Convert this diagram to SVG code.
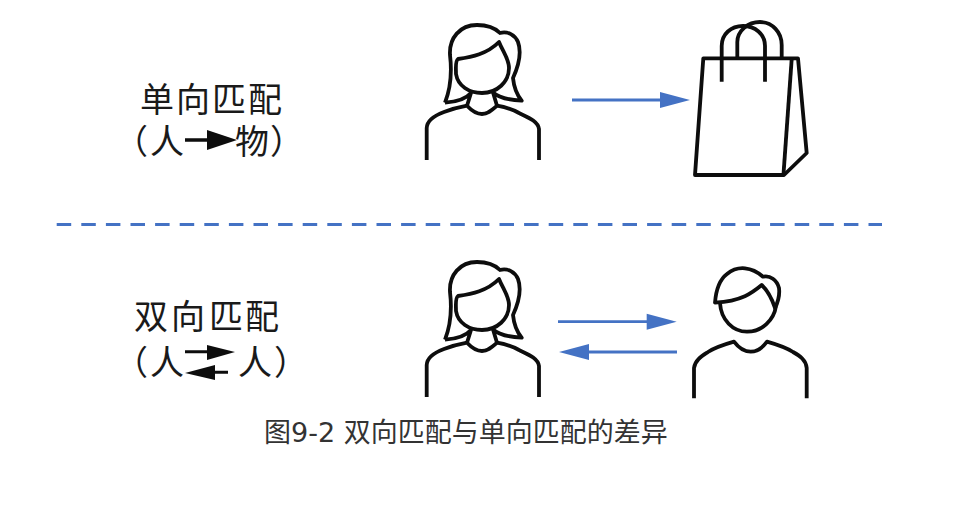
<svg xmlns="http://www.w3.org/2000/svg" width="956" height="515" viewBox="0 0 956 515">
<style>
.ink{fill:none;stroke:#0d0d0d;stroke-width:3.8;stroke-linecap:butt;stroke-linejoin:round}
.blue{fill:none;stroke:#4472c4;stroke-width:2.8}
.head{fill:#4472c4}
.lab{font-family:"Noto Sans CJK SC","Noto Sans CJK JP",sans-serif;font-weight:400;fill:#1a1a1a;font-size:34px}
.cap{font-family:"DejaVu Sans","Noto Sans CJK SC",sans-serif;fill:#333;font-size:27px}
.karrow{fill:#0d0d0d}
</style>
<defs>
<g id="woman">
<path class="ink" d="M426.700 160V128C427 120 436 115 444 112C452 109 460 107 467 105.700C472 111 476 114 482 114C488 114 492 110 497 105.700C505 107 512 109 519 113C527 117 538 121 539 129V160"/>
<path class="ink" d="M445 102.700C450 90 452 72 450 55C449 38 460 25 477 25C488 25 495 28 500 33C508 31 515 35 518 42C522 53 518 67 513 78C514 88 517 95 521.700 100.700C510 100 499 98 493 92.500L497 105.700"/>
<path class="ink" d="M445 102.700C455 102 465 100 471 93L467 105.700"/>
<path class="ink" d="M499 42C487 54 472 57 458 59C455 61 456 68 456 74C458 86 469 93 482 93C497 93 509 82 509 68C509 59 503 52 499 42Z"/>
</g>
</defs>
<g id="label-one-way">
<text class="lab" x="140" y="112">单</text><text class="lab" x="176" y="112">向</text><text class="lab" x="212" y="112">匹</text><text class="lab" x="248" y="112">配</text>
<text class="lab" x="114" y="154">（</text><text class="lab" x="150" y="154">人</text><text class="lab" x="235" y="154">物</text><text class="lab" x="270" y="154">）</text>
<path class="karrow" d="M185 138.300H207V130L237 140L207 150V141.700H185Z"/>
</g>
<g id="woman-top"><use href="#woman"/></g>
<g id="bag">
<path class="ink" d="M703.300 58.300H798L806.700 153L784 175H695Z"/>
<path class="ink" d="M791.700 59L783.500 174"/>
<path class="ink" d="M721.700 81.700V46C721.700 34 731 26 743 26C755 26 765 34 765 46V81.700"/>
<path class="ink" d="M737.300 58V42C737.300 31 748 22 760 22C772 22 781.700 32 781.700 45V58"/>
</g>
<g id="connectors">
<path class="blue" d="M572 100H665"/><path class="head" d="M660 92L690 100L660 108Z"/>
<path class="blue" d="M558 321.700H652"/><path class="head" d="M646.700 313.700L676.700 321.700L646.700 329.700Z"/>
<path class="blue" d="M677 352H584"/><path class="head" d="M589 344L559 352L589 360Z"/>
</g>
<path id="divider" d="M56.700 224.400H882" fill="none" stroke="#4472c4" stroke-width="3" stroke-dasharray="14.500 10.100"/>
<g id="label-two-way">
<text class="lab" x="134" y="329">双</text><text class="lab" x="171" y="329">向</text><text class="lab" x="209" y="329">匹</text><text class="lab" x="245" y="329">配</text>
<text class="lab" x="114" y="375">（</text><text class="lab" x="150" y="375">人</text><text class="lab" x="238" y="375">人</text><text class="lab" x="274" y="375">）</text>
<path class="karrow" d="M185 350.200H207V345L235 352L207 360V353.200H185Z"/>
<path class="karrow" d="M228 370.700H215V365L185 373L215 380V373.700H228Z"/>
</g>
<g id="woman-bottom"><use href="#woman" y="237"/></g>
<g id="man">
<path class="ink" d="M694 398.300V368C695 360 702 356 708 352C716 347 726 344 734 341.700C738 347 743 351.700 750.700 351.700C758 351.700 763 347 767 341.700C775 344 785 347 793 352C800 356 806 360 806.700 368V398.300"/>
<path class="ink" d="M715 302.700C716 290 719 280 727 274C738 265 752 267 763 276.700C770 275 777 280 779 288C780 296 778 302 775 308C771 296 767 290 761.700 285C752 293 742 301 715 302.700Z"/>
<path class="ink" d="M720 303C721 320 733 331.700 747 331.700C762 331.700 774 320 776 306"/>
</g>
<g id="caption"><text class="cap" x="264" y="442">图9-2 双向匹配与单向匹配的差异</text></g>
</svg>
